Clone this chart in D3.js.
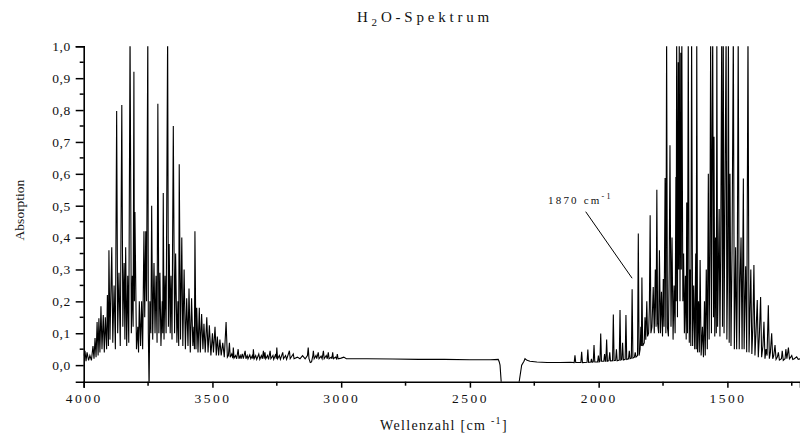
<!DOCTYPE html>
<html>
<head>
<meta charset="utf-8">
<script src="https://cdn.jsdelivr.net/npm/d3@7"></script>
<style>
  body { margin: 0; background: #fff; }
  text { font-family: "Liberation Serif", "Times New Roman", serif; fill: #111; }
</style>
</head>
<body>
<div id="chart"></div>
<script>
// H2O spectrum, values: [wavenumber cm-1, absorption]
// 4000 - 3000: O-H stretch band
let bandHigh = [
  [4000,0.03],[3995,0.045],[3991,0.012],[3987,0.04],[3981,0.015],[3976,0.03],[3970,0.015],
  [3964,0.06],[3960,0.02],[3956,0.085],[3952,0.025],[3948,0.135],[3944,0.03],[3941,0.147],
  [3937,0.04],[3933,0.185],[3929,0.05],[3924,0.157],[3920,0.04],[3916,0.15],[3911,0.05],
  [3908,0.22],[3904,0.06],[3902,0.36],[3898,0.08],[3891,0.37],[3887,0.07],[3882,0.25],
  [3877,0.05],[3872,0.797],[3868,0.1],[3863,0.29],[3858,0.06],[3852,0.816],[3848,0.12],
  [3843,0.32],[3840,0.08],[3837,0.37],[3833,0.06],[3829,0.28],[3825,0.07],[3820,1.05],
  [3815,0.1],[3811,0.28],[3808,0.12],[3805,0.92],[3803,0.2],[3801,0.48],[3795,0.05],
  [3790,0.12],[3787,0.04],[3784,0.2],[3779,0.06],[3775,0.2],[3771,0.05],[3766,0.42],
  [3763,0.15],[3759,0.42],[3756,0.2],[3751,1.05],[3749,0.1],[3746,-0.08],[3743,0.2],
  [3739,0.1],[3736,0.5],[3732,0.08],[3727,0.32],[3723,0.1],[3719,0.28],[3715,0.07],
  [3712,0.82],[3708,0.1],[3704,0.29],[3700,0.06],[3695,0.2],[3693,0.1],[3691,0.54],
  [3688,0.08],[3684,0.28],[3680,0.1],[3674,1.05],[3671,0.12],[3668,0.38],[3664,0.1],
  [3661,0.28],[3657,0.08],[3652,0.75],[3647,0.1],[3643,0.35],[3638,0.07],[3634,0.2],
  [3631,0.06],[3629,0.63],[3624,0.08],[3619,0.4],[3615,0.06],[3610,0.3],[3605,0.05],
  [3600,0.21],[3595,0.06],[3591,0.24],[3586,0.04],[3581,0.21],[3576,0.06],[3572,0.12],
  [3570,0.05],[3568,0.42],[3564,0.05],[3561,0.18],[3556,0.04],[3551,0.18],[3547,0.04],
  [3542,0.16],[3537,0.05],[3533,0.13],[3528,0.04],[3522,0.15],[3517,0.04],[3512,0.125],
  [3506,0.03],[3500,0.1],[3496,0.04],[3490,0.12],[3485,0.03],[3481,0.09],[3476,0.03],
  [3471,0.08],[3466,0.03],[3460,0.07],[3454,0.025],[3447,0.135],[3442,0.025],[3438,0.03],
  [3434,0.07],[3431,0.025],[3425,0.035],[3421,0.022],[3419,0.055],[3416,0.022],[3410,0.03],
  [3406,0.02],[3400,0.05],[3397,0.02],[3392,0.03],[3389,0.02],[3384,0.035],[3380,0.02],
  [3373,0.045],[3370,0.02],[3365,0.03],[3362,0.02],[3355,0.032],[3351,0.02],[3345,0.03],
  [3343,0.02],[3341,0.05],[3338,0.02],[3332,0.03],[3328,0.018],[3320,0.035],[3316,0.018],
  [3310,0.03],[3306,0.02],[3302,0.045],[3299,0.02],[3296,0.04],[3293,0.02],[3286,0.03],
  [3282,0.018],[3276,0.045],[3273,0.02],[3265,0.03],[3262,0.018],[3254,0.035],[3252,0.02],
  [3250,0.055],[3247,0.02],[3240,0.03],[3236,0.018],[3227,0.04],[3224,0.02],[3216,0.03],
  [3212,0.018],[3201,0.045],[3198,0.02],[3186,0.035],[3183,0.02],[3170,0.025],[3160,0.02],
  [3150,0.03],[3140,0.02],[3131,0.03],[3128,0.055],[3125,0.02],[3120,0.008],[3115,0.01],
  [3110,0.03],[3108,0.045],[3105,0.02],[3098,0.03],[3095,0.02],[3089,0.04],[3086,0.02],
  [3078,0.028],[3074,0.02],[3069,0.045],[3066,0.02],[3058,0.03],[3054,0.02],[3050,0.04],
  [3047,0.02],[3038,0.025],[3036,0.02],[3033,0.04],[3030,0.02],[3022,0.025],[3018,0.02],
  [3015,0.035],[3012,0.02],[3000,0.022],[2990,0.025],[2980,0.02]
];
// 3000 - 2270: flat baseline with the CO2 dip
let bandMid = [
  [2980,0.02],[2900,0.02],[2800,0.019],[2700,0.018],[2600,0.018],[2500,0.017],[2420,0.017],
  [2390,0.018],[2386,0.01],[2383,0.0],[2377,-0.07],[2312,-0.07],[2299,0.0],[2290,0.012],
  [2286,0.02],[2278,0.015],[2267,0.012]
];
// 2270 - 1218: H-O-H bending band
let bandLow = [
  [2267,0.012],[2240,0.01],[2200,0.008],[2150,0.008],[2110,0.009],
  [2095,0.008],[2092,0.031],[2089,0.008],[2069,0.008],[2066,0.042],[2063,0.008],
  [2045,0.009],[2042,0.049],[2039,0.009],[2030,0.01],[2028,0.02],[2025,0.009],
  [2021,0.01],[2018,0.063],[2015,0.01],[2004,0.01],[2001,0.03],[1998,0.01],
  [1995,0.012],[1992,0.099],[1989,0.012],[1980,0.012],[1977,0.035],[1974,0.012],
  [1972,0.012],[1969,0.08],[1966,0.012],[1960,0.014],[1957,0.04],[1954,0.013],
  [1946,0.014],[1943,0.159],[1940,0.014],[1934,0.015],[1931,0.05],[1928,0.014],
  [1920,0.016],[1917,0.173],[1914,0.016],[1910,0.018],[1907,0.07],[1904,0.016],
  [1897,0.018],[1894,0.157],[1891,0.018],[1884,0.02],[1881,0.045],[1878,0.02],
  [1873,0.022],[1870,0.238],[1867,0.022],[1861,0.025],[1858,0.04],[1855,0.025],
  [1849,0.03],[1846,0.413],[1843,0.03],[1839,0.05],[1836,0.12],[1834,0.06],[1832,0.275],
  [1829,0.06],[1823,0.07],[1820,0.15],[1817,0.08],[1813,0.2],[1810,0.09],[1806,0.1],
  [1803,0.18],[1800,0.47],[1797,0.1],[1793,0.12],[1788,0.245],[1784,0.1],[1780,0.3],
  [1777,0.12],[1774,0.55],[1771,0.13],[1767,0.1],[1764,0.36],[1760,0.1],[1756,0.23],
  [1752,0.09],[1749,0.27],[1746,0.12],[1742,0.587],[1739,0.1],[1736,1.05],[1733,0.12],
  [1729,0.09],[1726,0.3],[1723,0.69],[1719,0.12],[1715,0.4],[1711,0.08],[1707,0.25],
  [1703,0.1],[1700,0.59],[1699,0.2],[1697,1.05],[1694,0.15],[1691,0.95],[1689,0.3],
  [1687,1.05],[1684,0.2],[1681,0.98],[1679,0.3],[1677,1.05],[1673,0.2],[1670,0.35],
  [1667,0.1],[1663,0.28],[1660,0.08],[1658,0.51],[1655,0.1],[1652,1.05],[1648,0.07],
  [1645,0.3],[1642,0.06],[1639,1.05],[1635,0.06],[1631,0.25],[1627,0.05],[1623,0.35],
  [1621,0.05],[1619,1.05],[1616,0.04],[1612,0.2],[1609,0.04],[1606,0.33],[1602,0.03],
  [1597,0.12],[1593,0.025],[1589,0.2],[1586,0.03],[1582,0.3],[1578,0.05],[1574,0.6],
  [1571,0.08],[1568,0.35],[1565,1.05],[1562,0.1],[1560,0.6],[1557,1.05],[1554,0.15],
  [1552,0.716],[1549,0.09],[1546,0.4],[1543,0.1],[1541,1.05],[1538,0.12],[1535,0.3],
  [1532,0.49],[1529,0.09],[1526,0.35],[1522,1.05],[1519,0.12],[1516,1.05],[1513,0.1],
  [1510,0.45],[1505,1.05],[1502,0.08],[1499,0.3],[1496,1.05],[1493,0.07],[1490,0.6],
  [1486,0.06],[1482,0.35],[1477,1.05],[1473,0.05],[1468,0.37],[1464,0.05],[1462,0.2],
  [1458,1.05],[1454,0.05],[1451,0.25],[1447,0.4],[1443,0.05],[1438,0.585],[1435,0.05],
  [1432,0.2],[1429,0.31],[1425,0.04],[1420,1.05],[1416,0.04],[1413,0.15],[1409,0.3],
  [1405,0.035],[1401,0.12],[1397,0.314],[1393,0.03],[1389,0.1],[1384,0.204],[1380,0.025],
  [1376,0.09],[1371,0.214],[1367,0.025],[1362,0.06],[1358,0.136],[1354,0.02],[1350,0.05],
  [1346,0.03],[1341,0.188],[1337,0.02],[1333,0.04],[1328,0.1],[1324,0.02],[1320,0.03],
  [1315,0.063],[1311,0.018],[1306,0.025],[1302,0.04],[1298,0.016],[1290,0.02],[1287,0.045],
  [1283,0.015],[1276,0.02],[1273,0.05],[1269,0.02],[1263,0.055],[1259,0.02],[1254,0.025],
  [1250,0.03],[1246,0.018],[1240,0.02],[1231,0.026],[1225,0.018],[1215,0.02]
];

let xTicks = [4000, 3500, 3000, 2500, 2000, 1500];
let xMinor = [3750, 3250, 2750, 2250, 1750, 1250];
let yTicks = [0, 0.1, 0.2, 0.3, 0.4, 0.5, 0.6, 0.7, 0.8, 0.9, 1.0];
let yMinor = [0.05, 0.15, 0.25, 0.35, 0.45, 0.55, 0.65, 0.75, 0.85, 0.95];
let marked = [1870, 0.238];

let width = 800, height = 439;
let plotLeft = 83.7, plotRight = 800, plotTop = 46.3, plotBottom = 381.7;

let svg = d3.select("#chart").append("svg")
  .attr("width", width)
  .attr("height", height);

let x = d3.scaleLinear().domain([4000, 1218]).range([plotLeft, plotRight]);
let y = d3.scaleLinear().domain([-0.052, 1.0]).range([plotBottom, plotTop]);

svg.append("clipPath").attr("id", "plotclip")
  .append("rect")
  .attr("x", plotLeft).attr("y", plotTop)
  .attr("width", plotRight - plotLeft).attr("height", plotBottom - plotTop);

let spectrum = bandHigh.concat(bandMid.slice(1), bandLow.slice(1));

let line = d3.line()
  .x(function(d) { return x(d[0]); })
  .y(function(d) { return y(d[1]); });

svg.append("path")
  .datum(spectrum)
  .attr("clip-path", "url(#plotclip)")
  .attr("d", line)
  .attr("fill", "none")
  .attr("stroke", "#000")
  .attr("stroke-width", 1.1)
  .attr("stroke-linejoin", "miter");

// x axis
let xAxis = svg.append("g")
  .attr("transform", "translate(0," + plotBottom + ")")
  .call(d3.axisBottom(x).tickValues(xTicks).tickSize(6).tickPadding(6).tickFormat(d3.format("d")));
xAxis.append("g").selectAll("line")
  .data(xMinor).enter().append("line")
  .attr("x1", function(d) { return x(d); })
  .attr("x2", function(d) { return x(d); })
  .attr("y1", 0).attr("y2", 4)
  .attr("stroke", "#000").attr("stroke-width", 1.5);

// y axis
let yAxis = svg.append("g")
  .attr("transform", "translate(" + plotLeft + ",0)")
  .call(d3.axisLeft(y).tickValues(yTicks).tickSize(8).tickPadding(5)
    .tickFormat(function(d) { return d3.format(".1f")(d).replace(".", ","); }));
yAxis.append("g").selectAll("line")
  .data(yMinor).enter().append("line")
  .attr("x1", 0).attr("x2", -4)
  .attr("y1", function(d) { return y(d); })
  .attr("y2", function(d) { return y(d); })
  .attr("stroke", "#000").attr("stroke-width", 1.5);

svg.selectAll(".domain").attr("stroke", "#000").attr("stroke-width", 1.6);
svg.selectAll(".tick line").attr("stroke", "#000").attr("stroke-width", 1.5);
xAxis.selectAll(".tick text")
  .attr("font-family", "Liberation Serif, serif")
  .attr("font-size", 13.5)
  .attr("letter-spacing", "2.5px")
  .attr("fill", "#111");
yAxis.selectAll(".tick text")
  .attr("font-family", "Liberation Serif, serif")
  .attr("font-size", 13.5)
  .attr("letter-spacing", "0.5px")
  .attr("fill", "#111");

// title
let title = svg.append("text")
  .attr("x", 425).attr("y", 22)
  .attr("text-anchor", "middle")
  .attr("font-size", 15)
  .attr("letter-spacing", "3.8px");
title.append("tspan").text("H");
title.append("tspan").attr("dy", 4).attr("font-size", 11).text("2");
title.append("tspan").attr("dy", -4).text("O-Spektrum");

// axis labels
let xLabel = svg.append("text")
  .attr("x", 444).attr("y", 430)
  .attr("text-anchor", "middle")
  .attr("font-size", 14)
  .attr("letter-spacing", "1.3px");
xLabel.append("tspan").text("Wellenzahl [cm ");
xLabel.append("tspan").attr("dy", -6).attr("font-size", 10).text("-1");
xLabel.append("tspan").attr("dy", 6).text("]");

svg.append("text")
  .attr("transform", "translate(24,210) rotate(-90)")
  .attr("text-anchor", "middle")
  .attr("font-size", 13.5)
  .text("Absorption");

// annotation for the 1870 line
let note = svg.append("text")
  .attr("x", 548).attr("y", 204)
  .attr("font-size", 11)
  .attr("letter-spacing", "2.2px");
note.append("tspan").text("1870 cm");
note.append("tspan").attr("dy", -5).attr("font-size", 8).text("-1");

svg.append("line")
  .attr("x1", 585.7).attr("y1", 211.7)
  .attr("x2", x(marked[0])).attr("y2", y(marked[1]) - 11)
  .attr("stroke", "#000").attr("stroke-width", 1);
</script>
</body>
</html>
